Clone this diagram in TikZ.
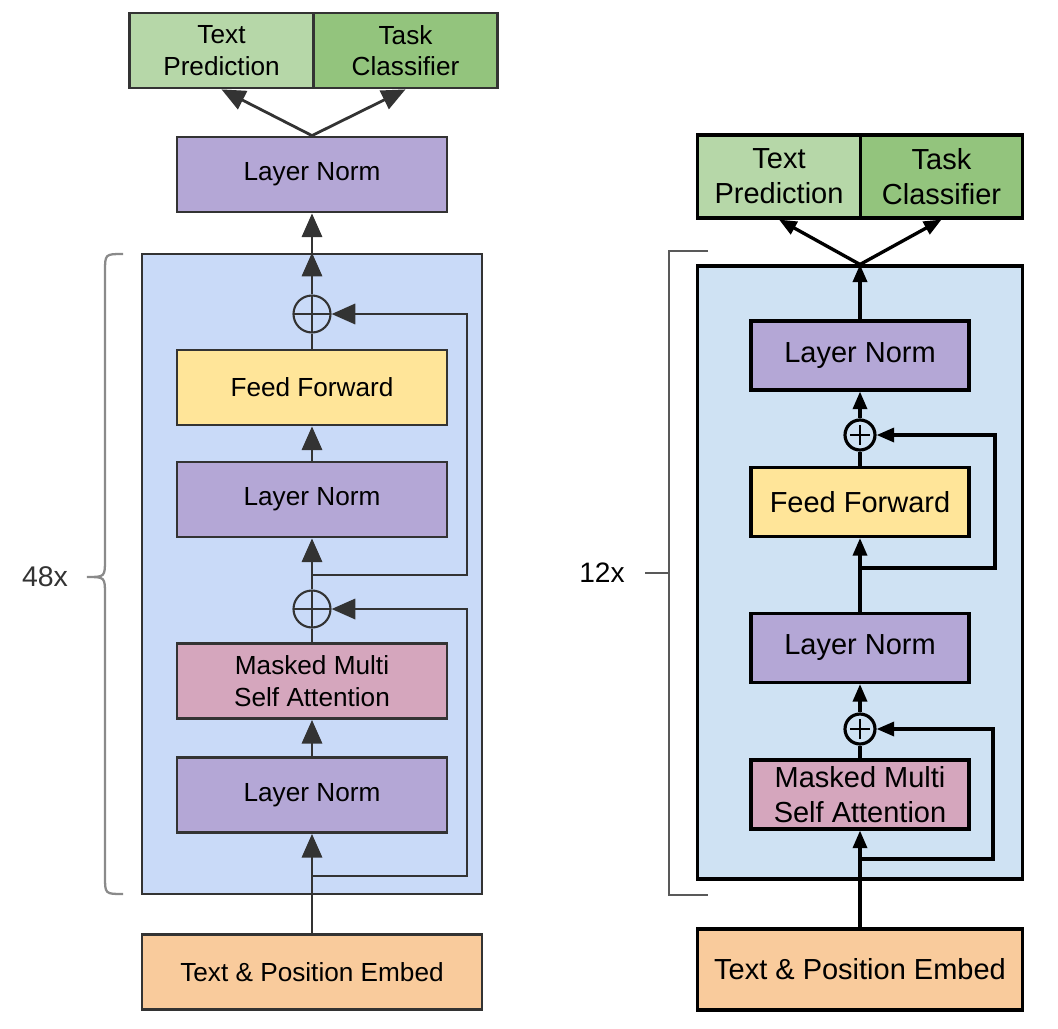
\documentclass[tikz,border=0pt]{standalone}
\usepackage{fontspec}
\setmainfont{Liberation Sans}
\usetikzlibrary{arrows.meta}

\definecolor{lineL}{HTML}{333333}
\definecolor{greenA}{HTML}{B6D7A8}
\definecolor{greenB}{HTML}{93C47D}
\definecolor{normC}{HTML}{B4A7D6}
\definecolor{ffC}{HTML}{FFE599}
\definecolor{attnC}{HTML}{D5A6BD}
\definecolor{embC}{HTML}{F9CB9C}
\definecolor{blockL}{HTML}{C9DAF8}
\definecolor{blockR}{HTML}{CFE2F3}
\definecolor{braceC}{HTML}{8A8A8A}

\begin{document}
\begin{tikzpicture}[x=0.02cm, y=-0.02cm,
  boxL/.style={draw=lineL, line width=1.6pt, minimum width=5.4cm, minimum height=1.5cm, inner sep=0pt, align=center, font=\fontsize{14.9}{17.8}\selectfont},
  headL/.style={boxL, minimum width=3.68cm},
  boxR/.style={draw=black, line width=1.8pt, minimum width=4.36cm, minimum height=1.38cm, inner sep=0pt, align=center, font=\fontsize{16.5}{19.9}\selectfont},
  headR/.style={boxR, minimum width=3.25cm, minimum height=1.66cm},
  arrL/.style={draw=lineL, line width=1.6pt, -{Triangle[length=13.5pt, width=11.5pt]}},
  lnL/.style={draw=lineL, line width=1.6pt},
  arrR/.style={line width=1.9pt, -{Triangle[length=10pt, width=8pt]}},
  lnR/.style={line width=1.9pt},
  plusL/.style={circle, draw=lineL, line width=1.2pt, minimum size=0.74cm, inner sep=0pt,
    path picture={\draw[lineL, line width=1.2pt] (path picture bounding box.north) -- (path picture bounding box.south) (path picture bounding box.west) -- (path picture bounding box.east);}},
  plusR/.style={circle, draw, line width=1.8pt, minimum size=0.6cm, inner sep=0pt,
    path picture={\draw[line width=1.5pt] (path picture bounding box.center) ++(-0.2cm,0pt) -- ++(0.4cm,0pt) (path picture bounding box.center) ++(0pt,-0.2cm) -- ++(0pt,0.4cm);}}]
  \useasboundingbox (0,0) rectangle (1058,1028);

  % left model
  \node[draw=lineL, line width=1.6pt, fill=blockL, minimum width=6.8cm, minimum height=12.8cm] (blkL) at (312,574) {};
  \draw[braceC, line width=1.3pt] (123,254) .. controls (105,254) .. (105,272) -- (105,559) .. controls (105,577) .. (87,577) .. controls (105,577) .. (105,595) -- (105,876) .. controls (105,894) .. (123,894);
  \node[text=lineL, font=\fontsize{16.2}{19}\selectfont] (repL) at (45,577) {48x};

  \node[headL, fill=greenA] (tpL) at (221.5,50.5) {Text\\Prediction};
  \node[headL, fill=greenB] (tcL) at (405.5,50.5) {Task\\Classifier};
  \node[boxL, fill=normC] (lnL1) at (312,174.5) {Layer Norm};
  \node[plusL] (addL1) at (312,314) {};
  \node[boxL, fill=ffC] (ffL) at (312,387.5) {Feed Forward};
  \node[boxL, fill=normC] (lnL2) at (312,499.5) {Layer Norm};
  \node[plusL] (addL2) at (312,609) {};
  \node[boxL, fill=attnC] (attL) at (312,681) {Masked Multi\\Self Attention};
  \node[boxL, fill=normC] (lnL3) at (312,795) {Layer Norm};
  \node[boxL, fill=embC, minimum width=6.8cm] (embL) at (312,972) {Text \& Position Embed};

  \coordinate (resL1a) at (312,575);
  \coordinate (resL1b) at (467,575);
  \coordinate (resL1c) at (467,314);
  \coordinate (resL2a) at (312,876);
  \coordinate (resL2b) at (467,876);
  \coordinate (resL2c) at (467,609);

  \draw[arrL] (embL) -- (lnL3);
  \draw[arrL] (lnL3) -- (attL);
  \draw[lnL] (attL) -- (addL2);
  \draw[arrL] (addL2) -- (lnL2);
  \draw[arrL] (lnL2) -- (ffL);
  \draw[lnL] (ffL) -- (addL1);
  \draw[arrL] (addL1) -- (blkL.north);
  \draw[arrL] (blkL.north) -- (lnL1);
  \draw[arrL] (lnL1.north) -- (tpL.south);
  \draw[arrL] (lnL1.north) -- (tcL.south);
  \draw[arrL] (resL2a) -- (resL2b) -- (resL2c) -- (addL2);
  \draw[arrL] (resL1a) -- (resL1b) -- (resL1c) -- (addL1);

  % right model
  \node[draw, line width=1.8pt, fill=blockR, minimum width=6.5cm, minimum height=12.26cm] (blkR) at (860,572.5) {};
  \draw[black!65, line width=1pt] (708,251) -- (669,251) -- (669,895) -- (708,895);
  \node[font=\fontsize{16}{19}\selectfont] (repR) at (602,573) {12x};
  \coordinate (repRtick) at (669,573);
  \draw[black!65, line width=1pt] (repRtick) -- ++(-24,0);

  \node[headR, fill=greenA] (tpR) at (779,176.5) {Text\\Prediction};
  \node[headR, fill=greenB] (tcR) at (941.5,176.5) {Task\\Classifier};
  \node[boxR, fill=normC] (lnR1) at (860,355.5) {Layer Norm};
  \node[plusR] (addR1) at (860,435) {};
  \node[boxR, fill=ffC] (ffR) at (860,502) {Feed Forward};
  \node[boxR, fill=normC] (lnR2) at (860,648) {Layer Norm};
  \node[plusR] (addR2) at (860,729) {};
  \node[boxR, fill=attnC] (attR) at (860,794.5) {Masked Multi\\Self Attention};
  \node[boxR, fill=embC, minimum width=6.5cm, minimum height=1.62cm] (embR) at (860,969.5) {Text \& Position Embed};

  \coordinate (resR1a) at (860,568);
  \coordinate (resR1b) at (995,568);
  \coordinate (resR1c) at (995,435);
  \coordinate (resR2a) at (860,859);
  \coordinate (resR2b) at (993,859);
  \coordinate (resR2c) at (993,729);

  \draw[arrR] (embR) -- (attR);
  \draw[lnR] (attR) -- (addR2);
  \draw[arrR] (addR2) -- (lnR2);
  \draw[arrR] (lnR2) -- (ffR);
  \draw[lnR] (ffR) -- (addR1);
  \draw[arrR] (addR1) -- (lnR1);
  \draw[arrR] (lnR1) -- (blkR.north);
  \draw[arrR] (blkR.north) -- (tpR.south);
  \draw[arrR] (blkR.north) -- (tcR.south);
  \draw[arrR] (resR2a) -- (resR2b) -- (resR2c) -- (addR2);
  \draw[arrR] (resR1a) -- (resR1b) -- (resR1c) -- (addR1);
\end{tikzpicture}
\end{document}
